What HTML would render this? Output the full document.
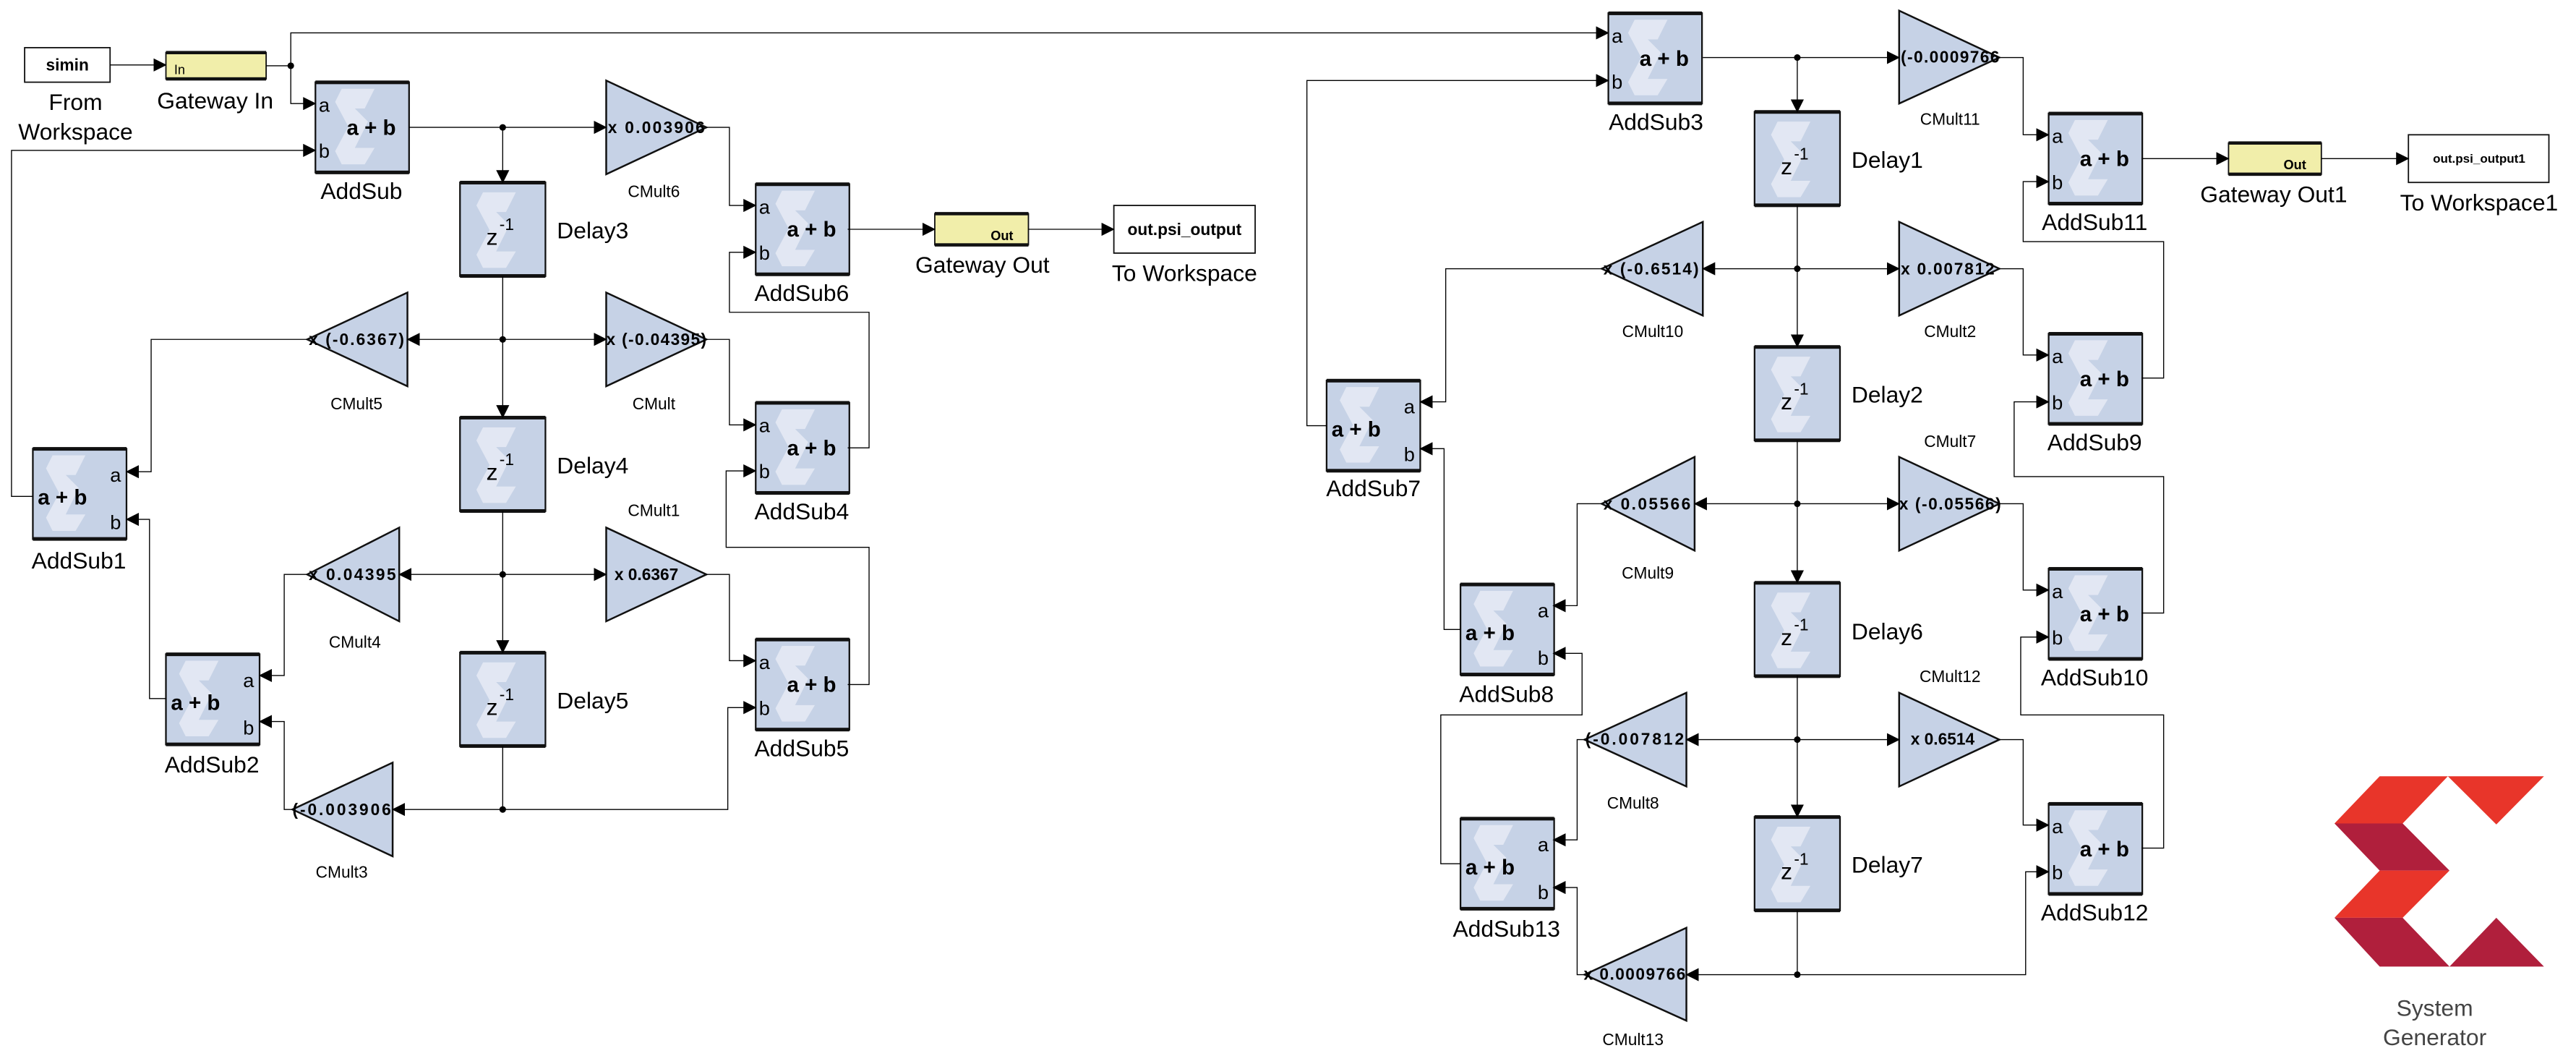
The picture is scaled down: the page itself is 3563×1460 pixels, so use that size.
<!DOCTYPE html>
<html><head><meta charset="utf-8"><style>
html,body{margin:0;padding:0;background:#fff}
svg{display:block}
text{font-family:"Liberation Sans",sans-serif;fill:#000}
.l{font-size:14px;text-anchor:middle}
.s{font-size:10px;text-anchor:middle}
.t{font-size:10px;font-weight:bold}
.ab{font-size:13px;font-weight:bold}
.p{font-size:12px}
.w{fill:none;stroke:#000;stroke-width:0.6}
.a{fill:none;stroke:#000;stroke-width:0.6;marker-end:url(#ar)}
.blk{fill:#c6d2e6;stroke:#111;stroke-width:1}
.tri{fill:#c6d2e6;stroke:#111;stroke-width:1.1}
</style></head><body>
<svg width="3563" height="1460" viewBox="0 0 1568 642.5" preserveAspectRatio="none" xmlns="http://www.w3.org/2000/svg">
<defs>
<marker id="ar" markerUnits="userSpaceOnUse" markerWidth="8" markerHeight="8" refX="7.5" refY="4" orient="auto"><path d="M0,0 L8,4 L0,8 z" fill="#000"/></marker>
<g id="sig"><polygon points="10,8 30,8 24,20 18,20 26,28 18,44 30,44 24,54 10,54 6,46 14,31 6,16" fill="#e6ebf4" opacity="0.85"/></g>
<g id="asN"><rect class="blk" x="0" y="0" width="57" height="55"/><rect x="0" y="-1" width="57" height="2.2" fill="#111"/><rect x="0" y="53.8" width="57" height="2.2" fill="#111"/><use href="#sig" x="6" y="-4"/><text class="p" x="2" y="18">a</text><text class="p" x="2" y="46">b</text><text class="ab" x="19" y="32">a + b</text></g>
<g id="asF"><rect class="blk" x="0" y="0" width="57" height="55"/><rect x="0" y="-1" width="57" height="2.2" fill="#111"/><rect x="0" y="53.8" width="57" height="2.2" fill="#111"/><use href="#sig" x="2" y="-4"/><text class="p" x="47" y="20">a</text><text class="p" x="47" y="49">b</text><text class="ab" x="3" y="34">a + b</text></g>
<g id="dl"><rect class="blk" x="0" y="0" width="52" height="57"/><rect x="0" y="-1" width="52" height="2.2" fill="#111"/><rect x="0" y="55.8" width="52" height="2.2" fill="#111"/><use href="#sig" x="4" y="-2"/><text x="16" y="38" style="font-size:14px">z</text><text x="24" y="29" style="font-size:10px">-1</text></g>
</defs>

<!-- Left section sources -->
<rect x="15" y="29" width="52" height="21" fill="#fff" stroke="#111" stroke-width="0.8"/>
<text x="41" y="43" style="font-size:10px;font-weight:bold;text-anchor:middle">simin</text>
<text class="l" x="46" y="67">From</text><text class="l" x="46" y="85">Workspace</text>
<rect x="101" y="32" width="61" height="16" fill="#f1eeaa" stroke="#111" stroke-width="0.8"/>
<rect x="101" y="31" width="61" height="2" fill="#111"/><rect x="101" y="47" width="61" height="2" fill="#111"/>
<text x="106" y="45" style="font-size:8px">In</text>
<text class="l" x="131" y="66">Gateway In</text>

<!-- blocks left -->
<use href="#asN" x="192" y="50"/><text class="l" x="220" y="121">AddSub</text>
<use href="#asN" x="460" y="112"/><text class="l" x="488" y="183">AddSub6</text>
<use href="#asN" x="460" y="245"/><text class="l" x="488" y="316">AddSub4</text>
<use href="#asN" x="460" y="389"/><text class="l" x="488" y="460">AddSub5</text>
<use href="#asF" x="20" y="273"/><text class="l" x="48" y="346">AddSub1</text>
<use href="#asF" x="101" y="398"/><text class="l" x="129" y="470">AddSub2</text>
<use href="#dl" x="280" y="111"/><text x="339" y="145" style="font-size:14px">Delay3</text>
<use href="#dl" x="280" y="254"/><text x="339" y="288" style="font-size:14px">Delay4</text>
<use href="#dl" x="280" y="397"/><text x="339" y="431" style="font-size:14px">Delay5</text>

<rect x="569" y="130" width="57" height="19" fill="#f1eeaa" stroke="#111" stroke-width="0.8"/>
<rect x="569" y="129" width="57" height="2" fill="#111"/><rect x="569" y="148" width="57" height="2" fill="#111"/>
<text x="603" y="146" style="font-size:8px;font-weight:bold">Out</text>
<text class="l" x="598" y="166">Gateway Out</text>
<rect x="678" y="125" width="86" height="29" fill="#fff" stroke="#111" stroke-width="0.8"/>
<text x="721" y="143" style="font-size:10px;font-weight:bold;text-anchor:middle">out.psi_output</text>
<text class="l" x="721" y="171">To Workspace</text>

<!-- triangles left -->
<polygon class="tri" points="369,49 430,77.5 369,106"/><text class="t" x="370" y="81" textLength="59">x 0.003906</text><text class="s" x="398" y="120">CMult6</text>
<polygon class="tri" points="369,178 430,206.5 369,235"/><text class="t" x="369" y="210" textLength="61">x (-0.04395)</text><text class="s" x="398" y="249">CMult</text>
<polygon class="tri" points="369,321 430,349.5 369,378"/><text class="t" x="374" y="353">x 0.6367</text><text class="s" x="398" y="314">CMult1</text>
<polygon class="tri" points="248,178 187,206.5 248,235"/><text class="t" x="188" y="210" textLength="58">x (-0.6367)</text><text class="s" x="217" y="249">CMult5</text>
<polygon class="tri" points="243,321 187,349.5 243,378"/><text class="t" x="188" y="353" textLength="53">x 0.04395</text><text class="s" x="216" y="394">CMult4</text>
<polygon class="tri" points="239,464 178,492.5 239,521"/><text class="t" x="178" y="496" textLength="60">(-0.003906</text><text class="s" x="208" y="534">CMult3</text>

<!-- wires left -->
<polyline class="a" points="67,39.5 101,39.5"/>
<polyline class="w" points="162,40 177,40"/>
<polyline class="a" points="177,40 177,20 979,20"/>
<polyline class="a" points="177,40 177,63 192,63"/>
<polyline class="a" points="20,302 7,302 7,91.5 192,91.5"/>
<polyline class="a" points="249,77.5 369,77.5"/>
<polyline class="a" points="306,77.5 306,111"/>
<polyline class="a" points="430,77.5 444,77.5 444,125 460,125"/>
<polyline class="a" points="516,272.5 529,272.5 529,190 444,190 444,153.5 460,153.5"/>
<polyline class="a" points="516,139.5 569,139.5"/>
<polyline class="a" points="626,139.5 678,139.5"/>
<polyline class="a" points="306,168 306,254"/>
<polyline class="a" points="306,206.5 248,206.5"/>
<polyline class="a" points="306,206.5 369,206.5"/>
<polyline class="a" points="187,206.5 92,206.5 92,287 77,287"/>
<polyline class="a" points="430,206.5 444,206.5 444,258.5 460,258.5"/>
<polyline class="a" points="516,416.5 529,416.5 529,333 442,333 442,286.5 460,286.5"/>
<polyline class="a" points="306,311 306,397"/>
<polyline class="a" points="306,349.5 243,349.5"/>
<polyline class="a" points="306,349.5 369,349.5"/>
<polyline class="a" points="187,349.5 173,349.5 173,411 158,411"/>
<polyline class="a" points="430,349.5 444,349.5 444,402 460,402"/>
<polyline class="w" points="306,454 306,492.5"/>
<polyline class="a" points="306,492.5 443,492.5 443,430.5 460,430.5"/>
<polyline class="a" points="306,492.5 239,492.5"/>
<polyline class="a" points="178,492.5 173,492.5 173,439 158,439"/>
<polyline class="a" points="101,425 91,425 91,316 77,316"/>
<g fill="#000"><circle cx="177" cy="40" r="2"/><circle cx="306" cy="77.5" r="2"/><circle cx="306" cy="206.5" r="2"/><circle cx="306" cy="349.5" r="2"/><circle cx="306" cy="492.5" r="2"/></g>

<!-- Right section blocks -->
<use href="#asN" x="979" y="8"/><text class="l" x="1008" y="79">AddSub3</text>
<use href="#asN" x="1247" y="69"/><text class="l" x="1275" y="140">AddSub11</text>
<use href="#asN" x="1247" y="203"/><text class="l" x="1275" y="274">AddSub9</text>
<use href="#asN" x="1247" y="346"/><text class="l" x="1275" y="417">AddSub10</text>
<use href="#asN" x="1247" y="489"/><text class="l" x="1275" y="560">AddSub12</text>
<use href="#asF" x="807.5" y="231.5"/><text class="l" x="836" y="302">AddSub7</text>
<use href="#asF" x="889" y="355.5"/><text class="l" x="917" y="427">AddSub8</text>
<use href="#asF" x="889" y="498"/><text class="l" x="917" y="570">AddSub13</text>
<use href="#dl" x="1068" y="68"/><text x="1127" y="102" style="font-size:14px">Delay1</text>
<use href="#dl" x="1068" y="211"/><text x="1127" y="245" style="font-size:14px">Delay2</text>
<use href="#dl" x="1068" y="354.5"/><text x="1127" y="389" style="font-size:14px">Delay6</text>
<use href="#dl" x="1068" y="497"/><text x="1127" y="531" style="font-size:14px">Delay7</text>

<rect x="1356.5" y="87" width="56.5" height="19" fill="#f1eeaa" stroke="#111" stroke-width="0.8"/>
<rect x="1356.5" y="86" width="56.5" height="2" fill="#111"/><rect x="1356.5" y="105" width="56.5" height="2" fill="#111"/>
<text x="1390" y="103" style="font-size:8px;font-weight:bold">Out</text>
<text class="l" x="1384" y="123">Gateway Out1</text>
<rect x="1466" y="82" width="85.5" height="29" fill="#fff" stroke="#111" stroke-width="0.8"/>
<text x="1509" y="99" style="font-size:7.5px;font-weight:bold;text-anchor:middle">out.psi_output1</text>
<text class="l" x="1509" y="128">To Workspace1</text>

<!-- triangles right -->
<polygon class="tri" points="1156,6.5 1217,35 1156,63"/><text class="t" x="1157" y="38" textLength="60">(-0.0009766</text><text class="s" x="1187" y="76">CMult11</text>
<polygon class="tri" points="1156,135 1217,163.5 1156,192"/><text class="t" x="1157" y="167" textLength="57">x 0.007812</text><text class="s" x="1187" y="205">CMult2</text>
<polygon class="tri" points="1156,278 1217,306.5 1156,335"/><text class="t" x="1156" y="310" textLength="62">x (-0.05566)</text><text class="s" x="1187" y="272">CMult7</text>
<polygon class="tri" points="1156,421.5 1217,450 1156,478.5"/><text class="t" x="1163" y="453">x 0.6514</text><text class="s" x="1187" y="415">CMult12</text>
<polygon class="tri" points="1036.5,135 975,163.5 1036.5,192"/><text class="t" x="976" y="167" textLength="58">x (-0.6514)</text><text class="s" x="1006" y="205">CMult10</text>
<polygon class="tri" points="1031.5,278 975,306.5 1031.5,335"/><text class="t" x="976" y="310" textLength="53">x 0.05566</text><text class="s" x="1003" y="352">CMult9</text>
<polygon class="tri" points="1026.5,421.5 964.5,450 1026.5,478.5"/><text class="t" x="965" y="453" textLength="60">(-0.007812</text><text class="s" x="994" y="492">CMult8</text>
<polygon class="tri" points="1026.5,564.5 964.5,593 1026.5,621"/><text class="t" x="964" y="596" textLength="62">x 0.0009766</text><text class="s" x="994" y="636">CMult13</text>

<!-- wires right -->
<polyline class="a" points="807.5,259 795.5,259 795.5,49 979,49"/>
<polyline class="a" points="1036.5,35 1156,35"/>
<polyline class="a" points="1094,35 1094,68"/>
<polyline class="a" points="1217,35 1231.5,35 1231.5,82 1247,82"/>
<polyline class="a" points="1303.5,230 1317,230 1317,147 1231.5,147 1231.5,110.5 1247,110.5"/>
<polyline class="a" points="1303.5,96.5 1356.5,96.5"/>
<polyline class="a" points="1413,96.5 1466,96.5"/>
<polyline class="a" points="1094,125 1094,211"/>
<polyline class="a" points="1094,163.5 1036.5,163.5"/>
<polyline class="a" points="1094,163.5 1156,163.5"/>
<polyline class="a" points="975,163.5 880,163.5 880,244.5 864.5,244.5"/>
<polyline class="a" points="1217,163.5 1231.5,163.5 1231.5,216 1247,216"/>
<polyline class="a" points="1303.5,373 1317,373 1317,290 1226,290 1226,244.5 1247,244.5"/>
<polyline class="a" points="1094,268 1094,354.5"/>
<polyline class="a" points="1094,306.5 1031.5,306.5"/>
<polyline class="a" points="1094,306.5 1156,306.5"/>
<polyline class="a" points="975,306.5 960,306.5 960,368.5 945.5,368.5"/>
<polyline class="a" points="1217,306.5 1231.5,306.5 1231.5,359 1247,359"/>
<polyline class="a" points="889,383 879,383 879,273 864.5,273"/>
<polyline class="a" points="1303.5,516 1317,516 1317,435 1230,435 1230,387.6 1247,387.6"/>
<polyline class="a" points="1094,411 1094,497"/>
<polyline class="a" points="1094,450 1026.5,450"/>
<polyline class="a" points="1094,450 1156,450"/>
<polyline class="a" points="964.5,450 960,450 960,511 945.5,511"/>
<polyline class="a" points="1217,450 1231.5,450 1231.5,502 1247,502"/>
<polyline class="a" points="889,525.5 877,525.5 877,435 963,435 963,397.5 945.5,397.5"/>
<polyline class="w" points="1094,554 1094,593"/>
<polyline class="a" points="1094,593 1233,593 1233,530.4 1247,530.4"/>
<polyline class="a" points="1094,593 1026.5,593"/>
<polyline class="a" points="964.5,593 960,593 960,540 945.5,540"/>
<g fill="#000"><circle cx="1094" cy="35" r="2"/><circle cx="1094" cy="163.5" r="2"/><circle cx="1094" cy="306.5" r="2"/><circle cx="1094" cy="450" r="2"/><circle cx="1094" cy="593" r="2"/></g>

<!-- Xilinx logo -->
<polygon points="1448.5,472.3 1490,472.3 1462.5,501 1421,501" fill="#e8352a"/>
<polygon points="1490,472.3 1548.5,472.3 1519.5,501.6" fill="#e8352a"/>
<polygon points="1421,501 1462.5,501 1491,529.7 1448.5,529.7" fill="#b01f3c"/>
<polygon points="1448.5,529.7 1491,529.7 1462.5,558.4 1421,558.4" fill="#e8352a"/>
<polygon points="1421,558.4 1462.5,558.4 1491,588.1 1448.5,588.1" fill="#b01f3c"/>
<polygon points="1491,588.1 1519.5,558.4 1548.5,588.1" fill="#b01f3c"/>
<text class="l" x="1482" y="618" style="fill:#444">System</text>
<text class="l" x="1482" y="636" style="fill:#444">Generator</text>
</svg>
</body></html>
